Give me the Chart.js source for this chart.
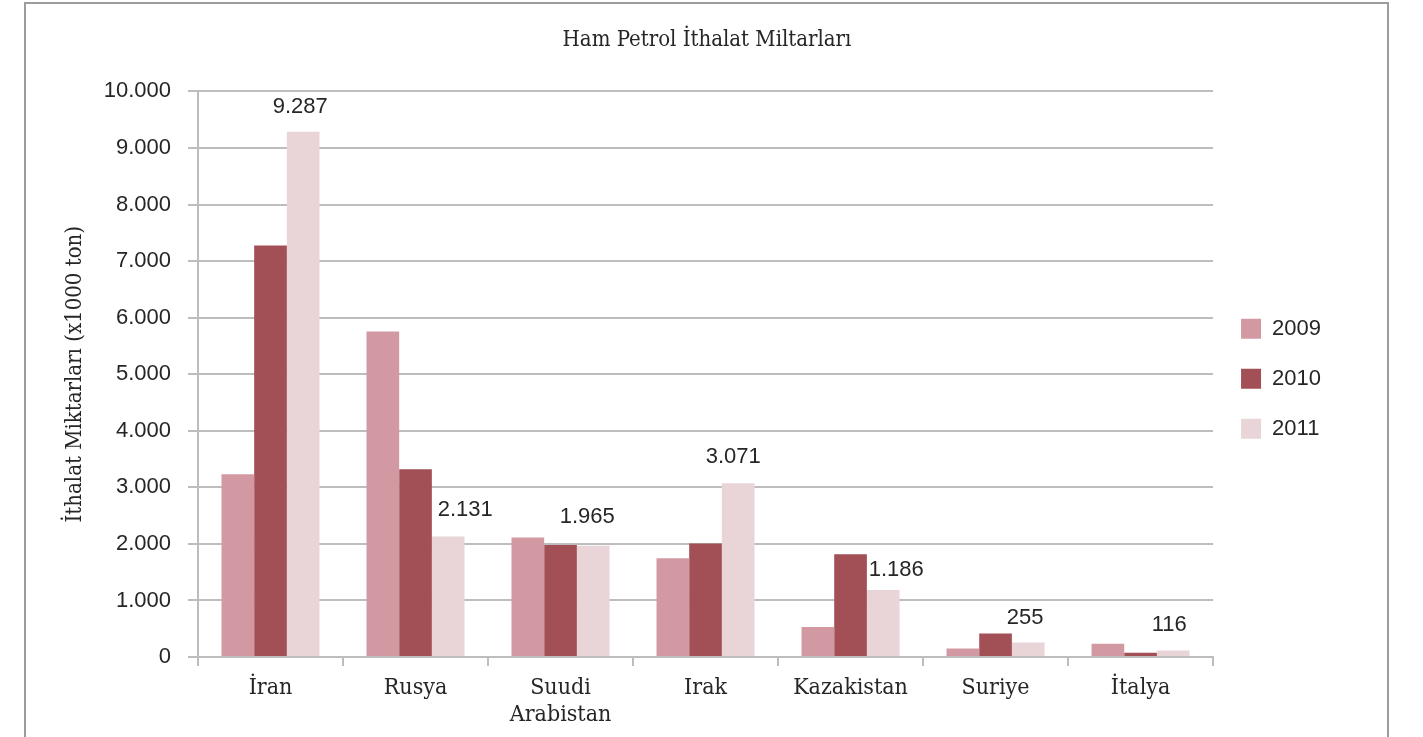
<!DOCTYPE html>
<html lang="tr">
<head>
<meta charset="utf-8">
<title>Ham Petrol İthalat Miltarları</title>
<script src="https://cdn.jsdelivr.net/npm/chart.js@4"></script>
<style>
  body { margin: 0; background: #fff; overflow: hidden; }
  #cerceve { position: absolute; left: 24px; top: 2px; width: 1361px; height: 800px; border: 2px solid #9c9c9c; }
  #grafik { position: absolute; left: 0; top: 0; }
</style>
</head>
<body>
<div id="cerceve"></div>
<canvas id="grafik" width="1423" height="737"></canvas>
<script>
// Ulkeler
const ulkeler = ['İran', 'Rusya', ['Suudi', 'Arabistan'], 'Irak', 'Kazakistan', 'Suriye', 'İtalya'];
// Ithalat miktarlari (x1000 ton)
const yil2009 = [3230, 5755, 2115, 1745, 530, 150, 235];
const yil2010 = [7275, 3320, 1980, 2005, 1815, 415, 75];
const yil2011 = [9287, 2131, 1965, 3071, 1186, 255, 116];
const yillar = ['2009', '2010', '2011'];

// Etiketlerin kaydirmasi (px), sadece 2011 serisi icin
const etiketDx = [-3, 17, -6, -5, 13, -3, -4];
const etiketDy = [0, -1, -4, -1, 5, 0, 0];

function binlik(v) {
    return String(v).replace(/\B(?=(\d{3})+(?!\d))/g, '.');
}

const seriEtiketleri = {
    id: 'seriEtiketleri',
    afterDatasetsDraw(chart) {
        const ctx = chart.ctx;
        const meta = chart.getDatasetMeta(2);
        ctx.save();
        ctx.font = '22px "Liberation Sans", Arial, sans-serif';
        ctx.fillStyle = '#262626';
        ctx.textAlign = 'center';
        ctx.textBaseline = 'alphabetic';
        meta.data.forEach((bar, i) => {
            ctx.fillText(binlik(yil2011[i]), bar.x + etiketDx[i], bar.y - 19 + etiketDy[i]);
        });
        ctx.restore();
    }
};

const izgara = '#bdbdbd';
const serif = '"DejaVu Serif Condensed", "DejaVu Serif", serif';

let ctx = document.getElementById('grafik').getContext('2d');
let chart = new Chart(ctx, {
    type: 'bar',
    data: {
        labels: ulkeler,
        datasets: [
            { label: yillar[0], data: yil2009, backgroundColor: '#d299a3' },
            { label: yillar[1], data: yil2010, backgroundColor: '#a34f56' },
            { label: yillar[2], data: yil2011, backgroundColor: '#e9d5d8' }
        ]
    },
    options: {
        responsive: false,
        animation: false,
        layout: { padding: { top: 0, right: 92, bottom: -1, left: 83 } },
        datasets: { bar: { barPercentage: 1, categoryPercentage: 0.676 } },
        plugins: {
            title: {
                display: true,
                text: 'Ham Petrol İthalat Miltarları',
                color: '#262626',
                font: { family: serif, size: 22, weight: 'normal' },
                padding: { top: 27, bottom: 38 }
            },
            legend: {
                position: 'right',
                fullSize: false,
                title: { display: true, text: '', padding: 0, font: { size: 1, lineHeight: '9px' } },
                labels: {
                    boxWidth: 20,
                    boxHeight: 20,
                    padding: 28,
                    color: '#262626',
                    font: { family: '"Liberation Sans", Arial, sans-serif', size: 22 }
                }
            },
            tooltip: { enabled: false }
        },
        scales: {
            x: {
                grid: { offset: true, drawOnChartArea: false, drawTicks: true, tickLength: 9, color: izgara, lineWidth: 2 },
                border: { color: izgara, width: 2 },
                ticks: {
                    color: '#262626',
                    padding: 9,
                    maxRotation: 0,
                    font: { family: serif, size: 23, lineHeight: '27px' }
                }
            },
            y: {
                min: 0,
                max: 10000,
                afterFit(scale) { scale.width = 115; },
                grid: { color: izgara, lineWidth: 2, tickLength: 10 },
                border: { color: izgara, width: 2 },
                ticks: {
                    stepSize: 1000,
                    padding: 17,
                    color: '#262626',
                    font: { family: '"Liberation Sans", Arial, sans-serif', size: 22 },
                    callback: (v) => binlik(v)
                },
                title: {
                    display: true,
                    text: 'İthalat Miktarları (x1000 ton)',
                    color: '#262626',
                    font: { family: serif, size: 22 },
                    padding: { top: -21, bottom: 0 }
                }
            }
        }
    },
    plugins: [seriEtiketleri]
});
</script>
</body>
</html>
